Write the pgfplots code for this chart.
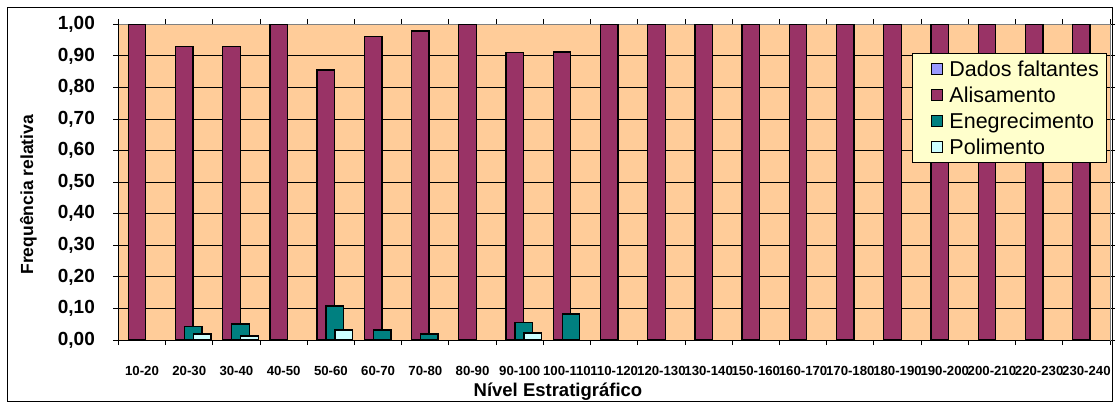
\documentclass[border=0pt]{standalone}
\usepackage{pgfplots}
\pgfplotsset{compat=1.18}
\usepackage{fontspec}
\setmainfont{Liberation Sans}
\definecolor{bgpeach}{HTML}{FFCC99}
\definecolor{alis}{HTML}{993366}
\definecolor{eneg}{HTML}{008080}
\definecolor{poli}{HTML}{CCFFFF}
\definecolor{dados}{HTML}{9999FF}
\definecolor{legfill}{HTML}{FFFFCC}
\begin{document}
\begin{tikzpicture}[x=1pt,y=1pt]
\useasboundingbox (0,0) rectangle (1117,407);
\draw[black, line width=1pt] (7,5) rectangle (1112,399);
\begin{axis}[
  at={(118.4pt,67pt)}, anchor=south west,
  scale only axis, width=991.6pt, height=315.7pt,
  ybar, bar width=17.5pt,
  xmin=-0.5, xmax=20.5, ymin=0, ymax=1,
  axis background/.style={fill=bgpeach},
  axis line style={draw=gray, line width=1pt},
  ytick={0,0.1,...,1.01},
  yticklabels={{0,00},{0,10},{0,20},{0,30},{0,40},{0,50},{0,60},{0,70},{0,80},{0,90},{1,00}},
  yticklabel style={font=\bfseries\fontsize{19}{22}\selectfont, anchor=east, xshift=-15pt},
  xtick={0,...,20},
  xticklabels={10-20,20-30,30-40,40-50,50-60,60-70,70-80,80-90,90-100,100-110,110-120,120-130,130-140,150-160,160-170,170-180,180-190,190-200,200-210,220-230,230-240},
  xticklabel style={font=\bfseries\fontsize{13.2}{15}\selectfont, anchor=north, yshift=-18pt},
  major x tick style={draw=none},
  minor xtick={-0.5,0.5,...,20.6},
  tick align=outside, major tick length=5pt, minor tick length=5pt,
  tick style={black, line width=1pt},
  ymajorgrids, grid style={black, line width=1pt},
  xlabel={Nível Estratigráfico},
  xlabel style={font=\bfseries\fontsize{18.5}{21}\selectfont, at={(axis description cs:0.4433,-0.1647)}, anchor=center},
  ylabel={Frequência relativa},
  ylabel style={font=\bfseries\fontsize{17.5}{20}\selectfont, at={(axis description cs:-0.0907,0.46)}, anchor=center, rotate=0},
  legend style={at={(0.8003,0.909)}, anchor=north west, fill=legfill, draw=black, line width=1pt,
    font=\fontsize{21.5}{24}\selectfont, row sep=5pt, inner xsep=6pt, inner ysep=5pt},
  legend cell align=left,
  legend image code/.code={\path[draw=none,fill=none] (0pt,0pt) -- (29pt,0pt);\draw[#1, draw=black, line width=1pt] (13pt,-5.5pt) rectangle (24pt,5.5pt);},
  clip=false,
]
\addlegendimage{fill=dados}
\addlegendentry{Dados faltantes}
\addplot[fill=alis, draw=black, line width=1.3pt, bar shift=-5pt] coordinates {
(0,1.000) (1,0.929) (2,0.929) (3,1.000) (4,0.855) (5,0.961) (6,0.979) (7,1.000) (8,0.911) (9,0.912)
(10,1.000) (11,1.000) (12,1.000) (13,1.000) (14,1.000) (15,1.000) (16,1.000) (17,1.000) (18,1.000) (19,1.000) (20,1.000)};
\addlegendentry{Alisamento}
\addplot[fill=eneg, draw=black, line width=1.3pt, bar shift=4pt] coordinates {
(1,0.043) (2,0.051) (4,0.108) (5,0.032) (6,0.019) (8,0.056) (9,0.082)};
\addlegendentry{Enegrecimento}
\addplot[fill=poli, draw=black, line width=1.3pt, bar shift=13pt] coordinates {
(1,0.019) (2,0.013) (4,0.032) (8,0.022)};
\addlegendentry{Polimento}
\draw[black, line width=1pt] (rel axis cs:0,0) -- (rel axis cs:0,1);
\draw[black, line width=1pt] (rel axis cs:0,0) -- (rel axis cs:1,0);
\end{axis}
\end{tikzpicture}
\end{document}
